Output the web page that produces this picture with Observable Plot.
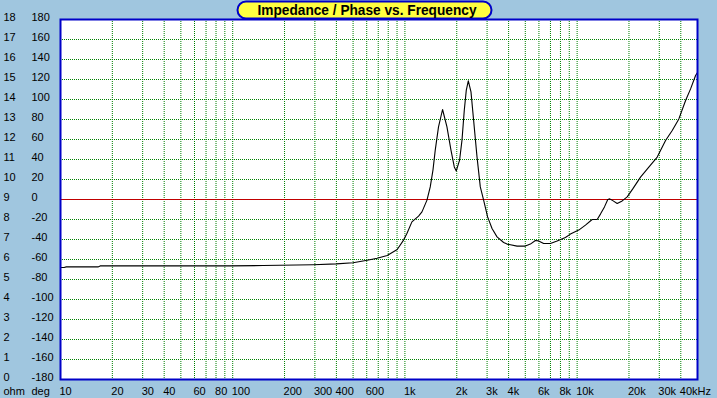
<!DOCTYPE html>
<html><head><meta charset="utf-8">
<script src="https://cdn.jsdelivr.net/npm/d3@7"></script>
<script src="https://cdn.jsdelivr.net/npm/@observablehq/plot@0.6"></script>
<style>
html,body{margin:0;padding:0;background:#a0c6df;}
#wrap{position:relative;width:717px;height:398px;overflow:hidden;background:#a0c6df;}
#title{position:absolute;left:0;top:0;}
</style></head><body><div id="wrap"></div>
<script>
const freqHz = [10, 10.5, 10.8, 16.5, 17, 50, 96, 150, 293, 400, 500, 604, 690, 789, 902, 982, 1027, 1098, 1200, 1256, 1343, 1403, 1455, 1500, 1567, 1654, 1754, 1851, 1935, 1987, 2077, 2145, 2212, 2272, 2334, 2419, 2505, 2622, 2740, 2864, 3021, 3205, 3427, 3744, 3918, 4480, 5006, 5352, 5722, 5979, 6394, 6995, 7651, 8551, 9143, 10216, 11176, 12226, 13073, 13662, 14413, 15066, 15474, 16193, 17085, 18266, 19532, 21040, 23340, 26080, 29180, 32620, 35660, 38970, 42640, 45580, 48730, 50000];
const impedanceOhm = [5.6, 5.6, 5.63, 5.63, 5.68, 5.68, 5.68, 5.7, 5.74, 5.78, 5.84, 5.96, 6.06, 6.2, 6.5, 6.97, 7.3, 7.88, 8.17, 8.38, 8.97, 9.63, 10.47, 11.47, 12.63, 13.5, 12.63, 11.47, 10.63, 10.43, 10.97, 11.97, 13.47, 14.47, 14.93, 14.38, 12.97, 11.13, 9.63, 8.97, 8.13, 7.55, 7.13, 6.85, 6.77, 6.67, 6.67, 6.77, 6.95, 6.93, 6.8, 6.8, 6.92, 7.1, 7.27, 7.47, 7.72, 8.0, 8.0, 8.27, 8.63, 9.0, 9.03, 8.93, 8.8, 8.93, 9.13, 9.53, 10.12, 10.62, 11.12, 11.95, 12.45, 13.03, 13.95, 14.53, 15.2, 15.35];
const ohmTicks = [0, 1, 2, 3, 4, 5, 6, 7, 8, 9, 10, 11, 12, 13, 14, 15, 16, 17, 18];
const degTicks = [-180, -160, -140, -120, -100, -80, -60, -40, -20, 0, 20, 40, 60, 80, 100, 120, 140, 160, 180];
const freqTickValues = [10, 20, 30, 40, 60, 80, 100, 200, 300, 400, 600, 1000, 2000, 3000, 4000, 6000, 8000, 10000, 20000, 30000, 40000];
const freqTickLabels = ["10", "20", "30", "40", "60", "80", "100", "200", "300", "400", "600", "1k", "2k", "3k", "4k", "6k", "8k", "10k", "20k", "30k", "40kHz"];
const freqGrid = [20, 30, 40, 50, 60, 70, 80, 90, 100, 200, 300, 400, 500, 600, 700, 800, 900, 1000, 2000, 3000, 4000, 5000, 6000, 7000, 8000, 9000, 10000, 20000, 30000, 40000];
const zeroPhaseDeg = [0];
const titleText = "Impedance / Phase vs. Frequency";
const unitLabels = ["ohm", "deg"];

const data = freqHz.map((f, i) => ({f, z: impedanceOhm[i]}));
const degToOhm = d => (d + 180) / 20;
const font = "'Liberation Sans', Arial, sans-serif";

const plot = Plot.plot({
  width: 717, height: 398,
  marginLeft: 60, marginRight: 20, marginTop: 19, marginBottom: 19,
  style: {background: "transparent", fontFamily: font, fontSize: "11px", color: "#000"},
  x: {type: "log", domain: [10, 50000], axis: null},
  y: {domain: [0, 18], axis: null},
  marks: [
    Plot.frame({fill: "white", stroke: "none"}),
    Plot.ruleX(freqGrid, {x: d => d, stroke: "#008000", strokeDasharray: "1,1", strokeWidth: 1}),
    Plot.ruleY(ohmTicks.filter(v => v > 0 && v < 18), {y: d => d, stroke: "#008000", strokeDasharray: "1,1", strokeWidth: 1}),
    Plot.ruleY(zeroPhaseDeg, {y: d => degToOhm(d), stroke: "#c00000", strokeWidth: 1}),
    Plot.line(data, {x: "f", y: "z", stroke: "black", strokeWidth: 1.1}),
    Plot.frame({stroke: "#0000c8", strokeWidth: 2}),
    Plot.text(ohmTicks, {y: d => d, text: d => String(d), frameAnchor: "left", dx: -57, dy: 1, textAnchor: "start", lineAnchor: "bottom", fill: "black"}),
    Plot.text(degTicks, {y: d => degToOhm(d), text: d => String(d), frameAnchor: "left", dx: -29, dy: 1, textAnchor: "start", lineAnchor: "bottom", fill: "black"}),
    Plot.text(freqTickValues, {x: d => d, text: (d, i) => freqTickLabels[i], frameAnchor: "bottom", dy: 15, dx: -1, textAnchor: "start", lineAnchor: "bottom", fill: "black"}),
    Plot.text([unitLabels[0]], {text: d => d, frameAnchor: "bottom-left", dx: -57, dy: 15, textAnchor: "start", lineAnchor: "bottom", fill: "black"}),
    Plot.text([unitLabels[1]], {text: d => d, frameAnchor: "bottom-left", dx: -29, dy: 15, textAnchor: "start", lineAnchor: "bottom", fill: "black"})
  ]
});
const wrap = document.getElementById("wrap");
wrap.appendChild(plot);

const ns = "http://www.w3.org/2000/svg";
const t = document.createElementNS(ns, "svg");
t.setAttribute("id", "title");
t.setAttribute("width", "717");
t.setAttribute("height", "22");
const r = document.createElementNS(ns, "rect");
r.setAttribute("x", "237.5"); r.setAttribute("y", "1.5");
r.setAttribute("width", "254"); r.setAttribute("height", "17");
r.setAttribute("rx", "8.5");
r.setAttribute("fill", "#ffff40"); r.setAttribute("stroke", "#0000c8"); r.setAttribute("stroke-width", "2");
t.appendChild(r);
const tx = document.createElementNS(ns, "text");
tx.setAttribute("x", "367"); tx.setAttribute("y", "15");
tx.setAttribute("text-anchor", "middle");
tx.setAttribute("font-family", font);
tx.setAttribute("font-weight", "bold");
tx.setAttribute("font-size", "15");
tx.setAttribute("textLength", "219");
tx.setAttribute("lengthAdjust", "spacingAndGlyphs");
tx.setAttribute("fill", "black");
tx.textContent = titleText;
t.appendChild(tx);
wrap.appendChild(t);
</script></body></html>
